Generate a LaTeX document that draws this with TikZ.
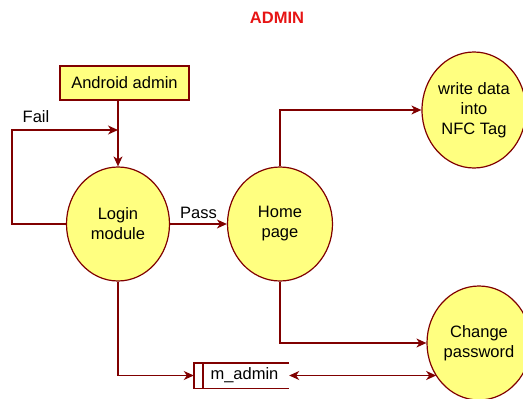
\documentclass[tikz,border=0pt]{standalone}
\usepackage{fontspec}
\setmainfont{Liberation Sans}
\usetikzlibrary{arrows.meta,shapes.geometric}
\definecolor{dred}{RGB}{128,0,0}
\definecolor{pyellow}{RGB}{255,255,128}
\definecolor{tred}{RGB}{230,20,20}
\begin{document}
\begin{tikzpicture}[x=1pt,y=-1pt,
  every node/.style={font=\fontsize{16.5}{20}\selectfont},
  proc/.style={ellipse,draw=dred,fill=pyellow,line width=1.2pt,inner sep=0pt,align=center},
  ent/.style={rectangle,draw=dred,fill=pyellow,line width=1.2pt,minimum width=129pt,minimum height=34pt,inner sep=0pt},
  flow/.style={draw=dred,line width=1.4pt,-{Stealth[length=10pt,width=9pt,inset=3pt]}},
  flowb/.style={draw=dred,line width=1.4pt,{Stealth[length=10pt,width=9pt,inset=3pt]}-{Stealth[length=10pt,width=9pt,inset=3pt]}},
  storeline/.style={draw=dred,line width=1.4pt}]
\useasboundingbox (0,0) rectangle (523,399);
\node[text=tred,font=\fontsize{16.5}{20}\selectfont\bfseries] (title) at (277,18) {ADMIN};
\node[ent] (android) at (124.5,83) {Android admin};
\node[proc,minimum width=103pt,minimum height=114pt] (login) at (118,224) {Login\\module};
\node[proc,minimum width=105pt,minimum height=114pt] (home) at (280,224) {Home\\page};
\node[proc,minimum width=104pt,minimum height=116pt] (write) at (474,110) {write data\\into\\NFC Tag};
\node[proc,minimum width=104pt,minimum height=114pt] (change) at (479,343) {Change\\password};
\node[minimum width=95pt,minimum height=25pt,inner sep=0pt] (store) at (241.5,375.5) {\hspace{6pt}m\_admin};
\draw[storeline] (store.north east) -- (store.north west) -- (store.south west) -- (store.south east);
\draw[storeline] ([xshift=9pt]store.north west) -- ([xshift=9pt]store.south west);
\coordinate (failc) at (12,130);
\coordinate (failend) at (118,130);
\draw[flow] (login.north |- android.south) -- (login.north);
\draw[flow] (login.west) -| (failc) -- (failend);
\node (fail) at (36,117) {Fail};
\draw[flow] (login.east) -- node[above=1pt] (pass) {Pass} (home.west);
\draw[flow] (home.north) |- (write.west);
\draw[flow] (home.south) |- (change.west);
\draw[flow] (login.south) |- (store.west);
\draw[flowb] (store.east) -- (store.east -| change.218);
\end{tikzpicture}
\end{document}
